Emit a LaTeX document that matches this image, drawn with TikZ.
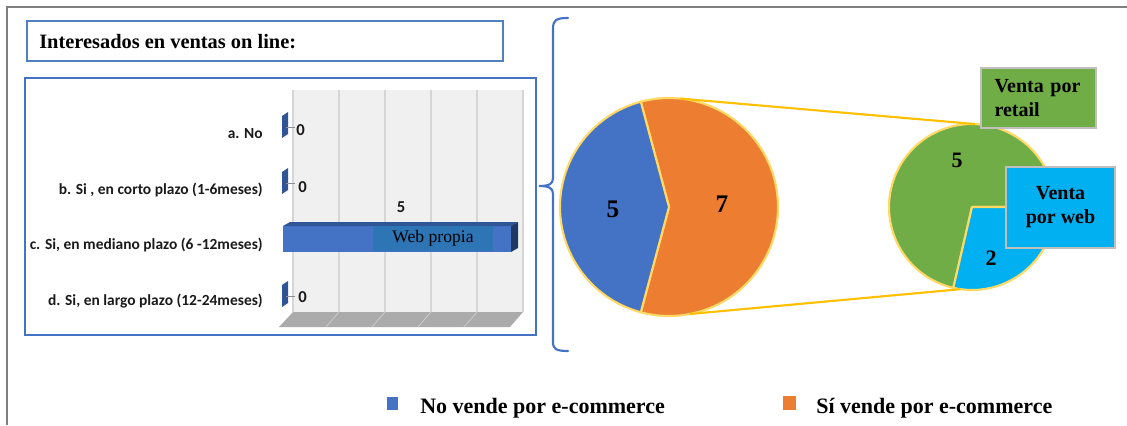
\documentclass[tikz,border=0pt]{standalone}
\usepackage{fontspec}
\setmainfont{Liberation Serif}
\newfontfamily\chartfont{Carlito}
\usetikzlibrary{calc}

\definecolor{msblue}{HTML}{4472C4}
\definecolor{msdarkblue}{HTML}{2F5597}
\definecolor{msnavy}{HTML}{203864}
\definecolor{msweb}{HTML}{2E75B6}
\definecolor{msorange}{HTML}{ED7D31}
\definecolor{msgreen}{HTML}{70AD47}
\definecolor{mscyan}{HTML}{00B0F0}
\definecolor{msgold}{HTML}{FFC000}
\definecolor{pieedge}{HTML}{FFD966}
\definecolor{boxedge}{HTML}{4F81BD}
\definecolor{framegray}{HTML}{7F7F7F}
\definecolor{wallfill}{HTML}{F0F0F0}
\definecolor{gridgray}{HTML}{D6D6D6}
\definecolor{floorfill}{HTML}{ABABAB}
\definecolor{labelink}{HTML}{1A1A1A}

\tikzset{
  catlabel/.style={font=\chartfont\bfseries\fontsize{11.6}{13}\selectfont, text=labelink, inner sep=0pt, anchor=base east},
  zerolabel/.style={font=\chartfont\bfseries\fontsize{12.5}{14}\selectfont, text=labelink, inner sep=0pt, anchor=base west},
  piefig/.style={font=\bfseries\fontsize{19}{22}\selectfont, inner sep=0pt},
  smallpiefig/.style={font=\bfseries\fontsize{16.5}{20}\selectfont, inner sep=0pt},
  calloutbox/.style={draw=black!25, line width=1.2pt, font=\bfseries\fontsize{15}{18}\selectfont, inner sep=0pt},
  legendtext/.style={font=\bfseries\fontsize{16.5}{20}\selectfont, inner sep=0pt, anchor=base west},
  zerobar/.style={fill=msdarkblue, draw=none},
  tick/.style={draw=black!45, line width=0.6pt},
  slice/.style={draw=pieedge, line width=1.6pt, line join=round},
  zoomline/.style={draw=msgold, line width=1.6pt},
}

\begin{document}
\begin{tikzpicture}[x=0.75pt,y=-0.75pt]
\useasboundingbox (0,0) rectangle (1127,425);

% page frame (top and left edges)
\draw[framegray, line width=1.6pt] (7,425) -- (7,7) -- (1127,7);

% heading box
\node[draw=boxedge, line width=1.2pt, minimum width=357pt, minimum height=30pt, inner sep=0pt]
  (titlebox) at (265,41) {};
\node[font=\bfseries\fontsize{15.3}{18}\selectfont, inner sep=0pt, anchor=base west]
  (title) at (39,48) {Interesados en ventas on line:};

% chart frame
\node[draw=msblue, line width=1.1pt, minimum width=383.25pt, minimum height=192.75pt, inner sep=0pt]
  (chartbox) at (280.5,206.5) {};

% back wall with grid
\fill[wallfill] (293,90) rectangle (523,312);
\foreach \gx in {293,339,385,431,477,523}
  \draw[gridgray, line width=0.8pt] (\gx,90) -- (\gx,312);

% floor
\fill[floorfill] (279,327) -- (293,312) -- (523,312) -- (510,327) -- cycle;
\foreach \gx in {339,385,431,477}
  \draw[black!20!white, line width=0.6pt] (\gx,312) -- (\gx-13,327);

% zero-length bars with their value ticks
\foreach \by in {112,168,281}{
  \fill[zerobar] (282,\by+4) -- (288,\by) -- (288,\by+22) -- (282,\by+26) -- cycle;
  \draw[tick] (286,\by+15) -- (295,\by+15);
}

% main bar (3-D)
\fill[msblue] (283,226) rectangle (511,252);
\fill[msdarkblue] (283,226) -- (290,222) -- (518,222) -- (511,226) -- cycle;
\fill[msnavy] (511,226) -- (518,222) -- (518,248) -- (511,252) -- cycle;
\node[fill=msweb, minimum width=90pt, minimum height=19pt, inner sep=0pt,
      font=\fontsize{13.2}{15}\selectfont] (web) at (433,238.5) {Web propia};

% category labels
\node[catlabel] (ca) at (263,138) {a. No};
\node[catlabel] (cb) at (263,194) {b. Si , en corto plazo (1-6meses)};
\node[catlabel] (cc) at (263,249) {c. Si, en mediano plazo (6 -12meses)};
\node[catlabel] (cd) at (263,305) {d. Si, en largo plazo (12-24meses)};

% value labels
\node[zerolabel] (va) at (296,135) {0};
\node[zerolabel] (vb) at (298,192) {0};
\node[zerolabel] (vd) at (298,302) {0};
\node[zerolabel, anchor=base] (vc) at (401,212) {5};

% brace
\draw[msblue, line width=1.6pt, line cap=round]
  (568,18) .. controls (556,18) and (553,20) .. (553,29)
  -- (553,178) .. controls (553,184) and (549,186) .. (539,186)
  .. controls (549,186) and (553,188) .. (553,194)
  -- (553,342) .. controls (553,349) and (556,351) .. (568,351);

% main pie
\coordinate (lpie) at (669,207);
\filldraw[slice, fill=msorange] (lpie) -- ++(-105:109) arc[start angle=-105, end angle=105, radius=109] -- cycle;
\filldraw[slice, fill=msblue] (lpie) -- ++(105:109) arc[start angle=105, end angle=255, radius=109] -- cycle;
\node[piefig] (pfive) at (613,209) {5};
\node[piefig] (pseven) at (722,204) {7};

% detail pie
\coordinate (rpie) at (972,207);
\filldraw[slice, fill=msgreen] (rpie) -- ++(103:83) arc[start angle=103, end angle=360, radius=83] -- cycle;
\filldraw[slice, fill=mscyan] (rpie) -- ++(0:83) arc[start angle=0, end angle=103, radius=83] -- cycle;
\node[smallpiefig] (rfive) at (957,160) {5};
\node[smallpiefig] (rtwo) at (991,258) {2};

% zoom connectors between the pies
\coordinate (lt) at ($(lpie)+(-84:109)$);
\coordinate (lb) at ($(lpie)+(79:109)$);
\coordinate (rt) at ($(rpie)+(-88:83)$);
\coordinate (rb) at ($(rpie)+(98:83)$);
\draw[zoomline] (lt) -- (rt);
\draw[zoomline] (lb) -- (rb);

% callouts
\node[calloutbox, fill=msgreen, minimum width=86.25pt, minimum height=45pt,
      align=left, text width=66pt] (retail) at (1038.5,98) {Venta por\\retail};
\node[calloutbox, fill=mscyan, minimum width=81.75pt, minimum height=60.75pt,
      align=center] (webbox) at (1060.5,207.5) {Venta\\por web};

% legend
\fill[msblue] (387,397) rectangle (398,410);
\node[legendtext] (legno) at (420,413) {No vende por e-commerce};
\fill[msorange] (783,396) rectangle (796,410);
\node[legendtext] (legsi) at (816,413) {Sí vende por e-commerce};
\end{tikzpicture}
\end{document}
